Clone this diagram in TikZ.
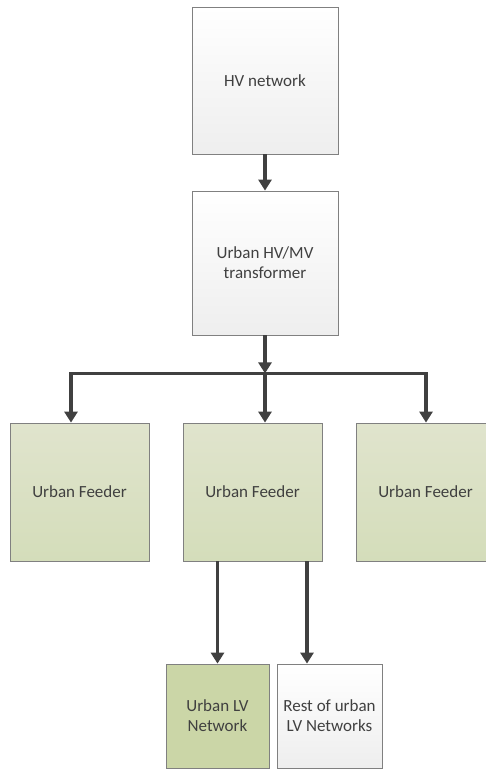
\documentclass[tikz,border=0pt]{standalone}
\usepackage{fontspec}
\setmainfont{Carlito}
\usetikzlibrary{arrows.meta}
\definecolor{boxline}{RGB}{128,128,128}
\definecolor{wirecol}{RGB}{64,64,64}
\definecolor{feedtop}{RGB}{224,228,205}
\definecolor{feedbot}{RGB}{212,221,186}
\definecolor{lvgreen}{RGB}{203,214,167}
\definecolor{greybot}{RGB}{238,238,238}

\begin{document}
\begin{tikzpicture}[x=1pt,y=-1pt,font=\fontsize{17}{20}\selectfont,
	greybox/.style={draw=boxline,line width=.8pt,top color=white,bottom color=greybot,text=black!75,align=center,inner sep=0pt},
	feedbox/.style={draw=boxline,line width=.8pt,top color=feedtop,bottom color=feedbot,text=black!75,align=center,inner sep=0pt,minimum width=139pt,minimum height=138pt},
	lvbox/.style={draw=boxline,line width=.8pt,fill=lvgreen,text=black!75,align=center,inner sep=0pt},
	link/.style={draw=wirecol,line width=3.6pt,-{Triangle[length=11pt,width=13pt]}},
	wire/.style={draw=wirecol,line width=3.6pt}]
	% page size
	\useasboundingbox (0,0) rectangle (485,769);
	
	% draw top boxes
	\node[greybox,minimum width=146pt,minimum height=147pt] (hv) at (265,80.5) {HV network};
	\node[greybox,minimum width=146pt,minimum height=144pt] (trafo) at (265,263) {Urban HV/MV\\transformer};
	
	% draw feeders
	\node[feedbox] (feedA) at (79.5,492) {Urban Feeder};
	\node[feedbox] (feedB) at (252.5,492) {Urban Feeder};
	\node[feedbox] (feedC) at (425.5,492) {Urban Feeder};
	
	% draw LV boxes
	\node[lvbox,minimum width=103pt,minimum height=104pt] (lvnet) at (217.5,716) {Urban LV\\Network};
	\node[greybox,minimum width=105pt,minimum height=104pt] (restlv) at (329.5,716) {Rest of urban\\LV Networks};
	
	% bus and arrow ends
	\coordinate (bus) at ([yshift=-38pt]trafo.south);
	\coordinate (inA) at ([xshift=-8.5pt]feedA.north);
	\coordinate (inC) at ([xshift=.5pt]feedC.north);
	\coordinate (inrest) at ([xshift=-22.5pt]restlv.north);
	
	% draw arrows
	\draw[link] (hv.south) -- (trafo.north);
	\draw[link] (trafo.south) -- (bus);
	\draw[link] (bus) -| (inA);
	\draw[link] (bus) -| (inC);
	\draw[link] (bus) -- (bus |- feedB.north);
	\draw[link] (feedB.south -| lvnet.north) -- (lvnet.north);
	\draw[link] (feedB.south -| inrest) -- (inrest);
\end{tikzpicture}
\end{document}
